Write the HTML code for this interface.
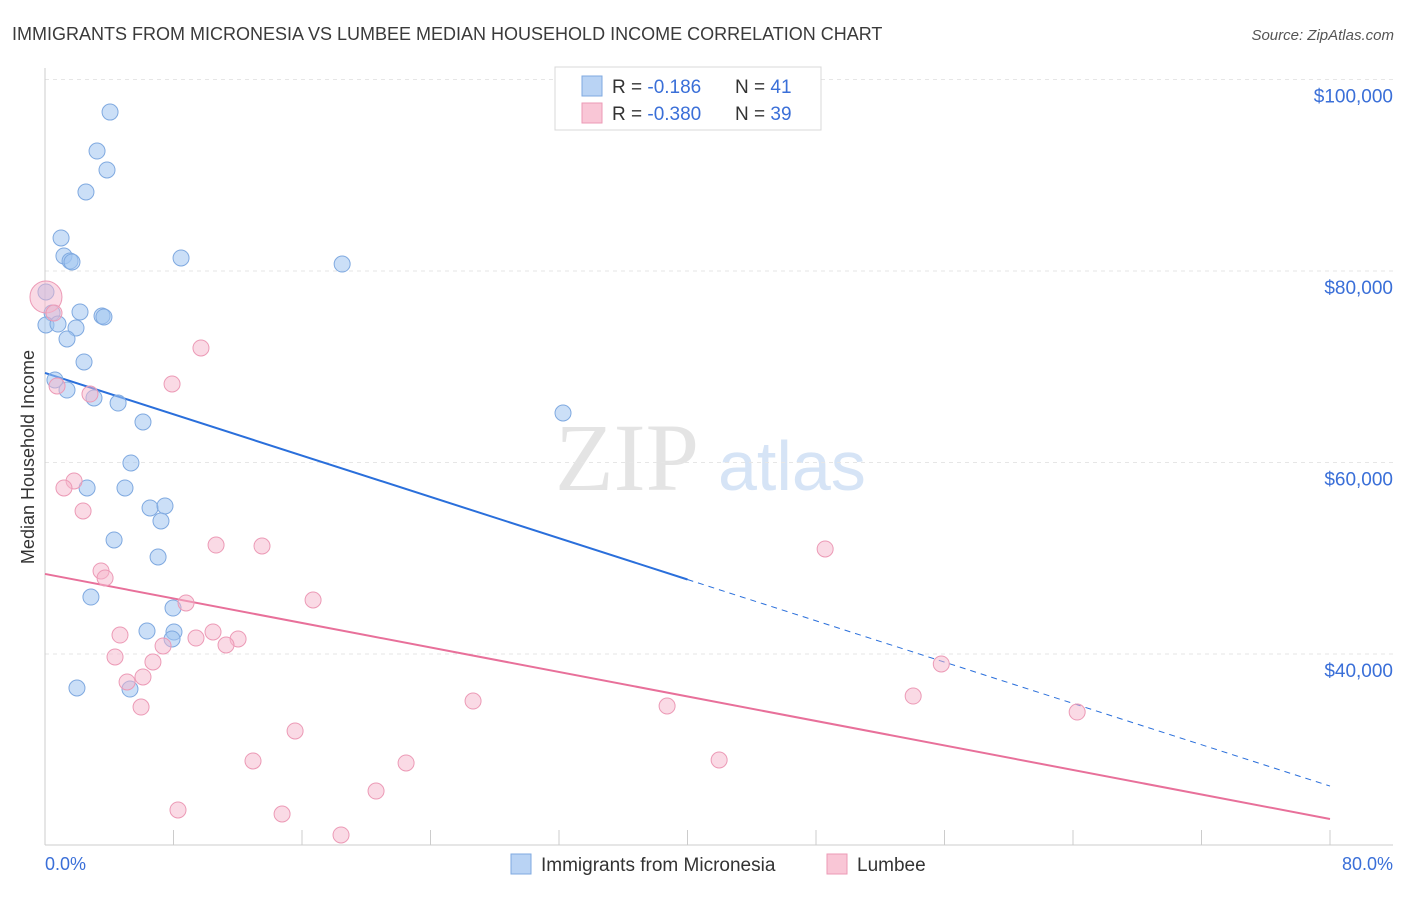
<!DOCTYPE html>
<html><head><meta charset="utf-8"><style>
body{margin:0;background:#fff;font-family:"Liberation Sans",sans-serif}
</style></head><body>
<svg id="c" width="1406" height="892" xmlns="http://www.w3.org/2000/svg">
<text x="12" y="40" font-size="18" fill="#3a3a3a">IMMIGRANTS FROM MICRONESIA VS LUMBEE MEDIAN HOUSEHOLD INCOME CORRELATION CHART</text>
<text x="1394" y="40" font-size="15" fill="#555" font-style="italic" text-anchor="end">Source: ZipAtlas.com</text>
<text x="555" y="490" font-size="96" fill="#e4e4e4" font-family="Liberation Serif,serif">ZIP</text>
<text x="718" y="490" font-size="70" fill="#d6e4f6">atlas</text>
<g id="grid"></g>
<g id="axes"></g>
<g id="lines"></g>
<g id="pts"></g>
<text transform="translate(34,457) rotate(-90)" font-size="18" fill="#333" text-anchor="middle">Median Household Income</text>
<text x="45" y="870" font-size="18" fill="#3a6fd8">0.0%</text>
<text x="1393" y="870" font-size="18" fill="#3a6fd8" text-anchor="end">80.0%</text>
<g>
<rect x="555" y="67" width="266" height="63" fill="#fff" stroke="#d8d8d8"/>
<rect x="582" y="76" width="20" height="20" fill="#b9d3f4" stroke="#7fa9e0"/>
<rect x="582" y="103" width="20" height="20" fill="#f9c6d6" stroke="#ec9ab6"/>
<text x="612" y="93" font-size="19" fill="#333">R = <tspan fill="#3a6fd8">-0.186</tspan><tspan x="735">N = </tspan><tspan fill="#3a6fd8">41</tspan></text>
<text x="612" y="120" font-size="19" fill="#333">R = <tspan fill="#3a6fd8">-0.380</tspan><tspan x="735">N = </tspan><tspan fill="#3a6fd8">39</tspan></text>
</g>
<g>
<rect x="511" y="854" width="20" height="20" fill="#b9d3f4" stroke="#7fa9e0"/>
<text x="541" y="871" font-size="19" fill="#333">Immigrants from Micronesia</text>
<rect x="827" y="854" width="20" height="20" fill="#f9c6d6" stroke="#ec9ab6"/>
<text x="857" y="871" font-size="19" fill="#333">Lumbee</text>
</g>
</svg>
<script>
const yTicks=[40000,60000,80000,100000];
const yTickLabels=["$40,000","$60,000","$80,000","$100,000"];
const blueX=[4.05,3.24,3.86,2.55,1.0,1.18,1.56,1.68,8.47,18.5,0.06,0.44,2.18,3.55,3.67,0.06,0.81,1.93,1.37,2.43,0.62,1.37,3.05,4.55,6.1,32.25,5.35,2.62,4.98,6.54,7.47,7.22,4.3,7.04,2.86,7.97,6.35,8.03,7.91,1.99,5.29];
const blueY=[96600,92530,90550,88250,83450,81570,81050,80940,81360,80730,77810,75610,75720,75300,75200,74360,74460,74050,72900,70500,68620,67570,66740,66210,64230,65170,59950,57340,57340,55250,55460,53890,51910,50130,45950,44800,42400,42300,41570,36450,36340];
const pinkX=[0.06,0.56,9.71,0.75,7.91,2.8,1.81,1.18,2.37,10.65,13.51,48.57,3.49,3.74,8.78,16.69,4.67,10.46,12.02,9.4,11.27,7.35,4.36,6.72,55.8,5.11,6.1,5.98,54.05,26.65,38.73,64.26,15.57,12.95,22.48,41.97,20.61,8.28,14.76,18.43];
const pinkY=[77290,75610,71960,67990,68200,67150,58070,57340,54940,51380,51280,50970,48670,47940,45330,45640,41980,42300,41570,41670,40940,40840,39690,39170,38960,37080,37600,34460,35610,35090,34570,33940,31960,28830,28620,28930,25690,23710,23290,21100];
const blueTrend=[69350,26210];
const pinkTrend=[48360,22770];
const NS="http://www.w3.org/2000/svg";
const X=v=>45+v*1285/80;
const Y=v=>654-(v-40000)*191.5/20000;
function mk(p,t,a){const e=document.createElementNS(NS,t);for(const k in a)e.setAttribute(k,a[k]);document.getElementById(p).appendChild(e);return e;}
yTicks.forEach((t,i)=>{
 const l=mk('grid','line',{x1:45,x2:1393,y1:Y(t),y2:Y(t),stroke:'#e6e6e6','stroke-dasharray':'4,4'});
 
 
 const tx=mk('grid','text',{x:1393,y:Y(t)+23,'font-size':19,fill:'#3a6fd8','text-anchor':'end'});
 tx.textContent=yTickLabels[i];
 
 
});
const ax=mk('axes','line',{x1:45,x2:1393,y1:845,y2:845,stroke:'#ccc'});


const ay=mk('axes','line',{x1:45,x2:45,y1:68,y2:845,stroke:'#ccc'});


for(let i=0;i<=10;i++){const t=mk('axes','line',{x1:X(i*8),x2:X(i*8),y1:830,y2:845,stroke:'#ccc'});
 
 }
const bMid=blueTrend[0]+(blueTrend[1]-blueTrend[0])*0.5;
const b1=mk('lines','line',{x1:X(0),y1:Y(blueTrend[0]),x2:X(40),y2:Y(bMid),stroke:'#2a6fdb','stroke-width':2});


const b2=mk('lines','line',{x1:X(40),y1:Y(bMid),x2:X(80),y2:Y(blueTrend[1]),stroke:'#2a6fdb','stroke-width':1,'stroke-dasharray':'6,5'});


const p1=mk('lines','line',{x1:X(0),y1:Y(pinkTrend[0]),x2:X(80),y2:Y(pinkTrend[1]),stroke:'#e8709a','stroke-width':2});


blueX.forEach((x,i)=>{const c=mk('pts','circle',{cx:X(x),cy:Y(blueY[i]),r:8,fill:'rgba(160,196,240,0.55)',stroke:'#7fa9e0','stroke-width':1});
 
 });
pinkX.forEach((x,i)=>{const c=mk('pts','circle',{cx:X(x),cy:Y(pinkY[i]),r:i==0?16:8,fill:'rgba(246,182,204,0.5)',stroke:'#ec9ab6','stroke-width':1});
 
 });
</script>
</body></html>
